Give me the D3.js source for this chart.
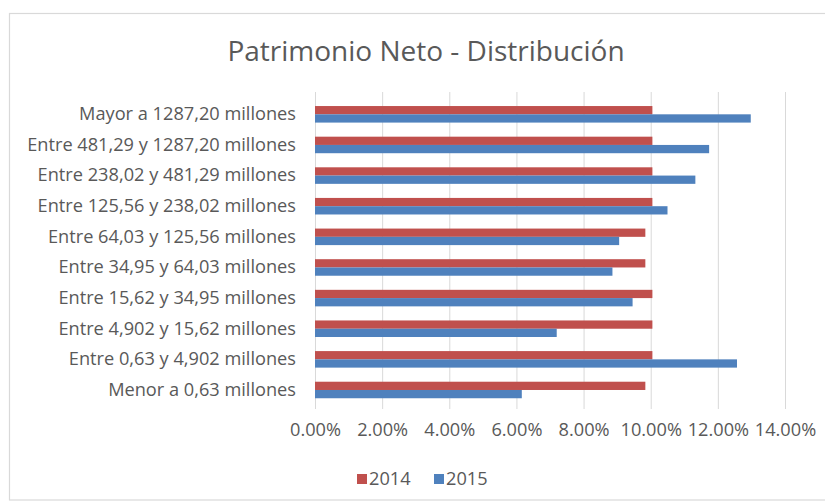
<!DOCTYPE html>
<html><head><meta charset="utf-8">
<script src="https://cdn.jsdelivr.net/npm/d3@7"></script>
<style>body{margin:0;background:#fff}svg{display:block}</style>
</head><body>
<script>
const categories = ["Mayor a 1287,20 millones","Entre 481,29 y 1287,20 millones","Entre 238,02 y 481,29 millones","Entre 125,56 y 238,02 millones","Entre 64,03 y 125,56 millones","Entre 34,95 y 64,03 millones","Entre 15,62 y 34,95 millones","Entre 4,902 y 15,62 millones","Entre 0,63 y 4,902 millones","Menor a 0,63 millones"];
const series2014 = [10.05,10.05,10.05,10.05,9.84,9.84,10.05,10.05,10.05,9.84];
const series2015 = [12.98,11.74,11.33,10.50,9.06,8.86,9.46,7.20,12.57,6.16];
const seriesNames = ["2014","2015"];
const tickValues = [0,2,4,6,8,10,12,14];
const colors = ["#C0504D","#4F81BD"];

const W=825,H=502;
const svg=d3.select("body").append("svg").attr("width",W).attr("height",H);
svg.append("rect").attr("x",9.5).attr("y",13.5).attr("width",830).attr("height",486.5)
  .attr("fill","#fff").attr("stroke","#d9d9d9").attr("stroke-width",1.2);

const font="'Open Sans', sans-serif";
const fs=18.2;
svg.append("text").attr("x",426).attr("y",61).attr("text-anchor","middle")
  .attr("font-family",font).attr("font-size",28).attr("fill","#595959")
  .text("Patrimonio Neto - Distribución");

const x=d3.scaleLinear().domain([0,14]).range([315,785]);
const y=d3.scaleBand().domain(categories).range([99,405.3]).paddingInner(0.46).paddingOuter(0.23);
const y1=d3.scaleBand().domain(seriesNames).range([0,y.bandwidth()]);

svg.append("g").selectAll("line").data(tickValues).join("line")
  .attr("x1",d=>x(d)+0.5).attr("x2",d=>x(d)+0.5).attr("y1",92).attr("y2",409)
  .attr("stroke","#d9d9d9").attr("stroke-width",1);

const data=[series2014,series2015];
const g=svg.append("g");
categories.forEach((c,i)=>{
  seriesNames.forEach((s,j)=>{
    g.append("rect").attr("x",x(0)).attr("y",y(c)+y1(s))
      .attr("width",x(data[j][i])-x(0)).attr("height",y1.bandwidth())
      .attr("fill",colors[j]);
  });
});

const yAxis=d3.axisLeft(y).tickSize(0).tickPadding(19);
const ya=svg.append("g").attr("transform",`translate(${x(0)},0)`).call(yAxis);
ya.select(".domain").remove();
ya.selectAll("text").attr("font-family",font).attr("font-size",fs).attr("fill","#595959");

const xAxis=d3.axisBottom(x).tickValues(tickValues).tickSize(0).tickPadding(0).tickFormat(d=>d3.format(".2f")(d)+"%");
const xa=svg.append("g").attr("transform","translate(0,423)").call(xAxis);
xa.select(".domain").remove();
xa.selectAll("text").attr("font-family",font).attr("font-size",fs).attr("fill","#595959");

const lg=svg.append("g");
const legX=[357,434];
seriesNames.forEach((s,j)=>{
  lg.append("rect").attr("x",legX[j]).attr("y",474).attr("width",10).attr("height",10).attr("fill",colors[j]);
  lg.append("text").attr("x",legX[j]+12).attr("y",485).attr("font-family",font).attr("font-size",fs).attr("fill","#595959").text(s);
});
</script>
</body></html>
